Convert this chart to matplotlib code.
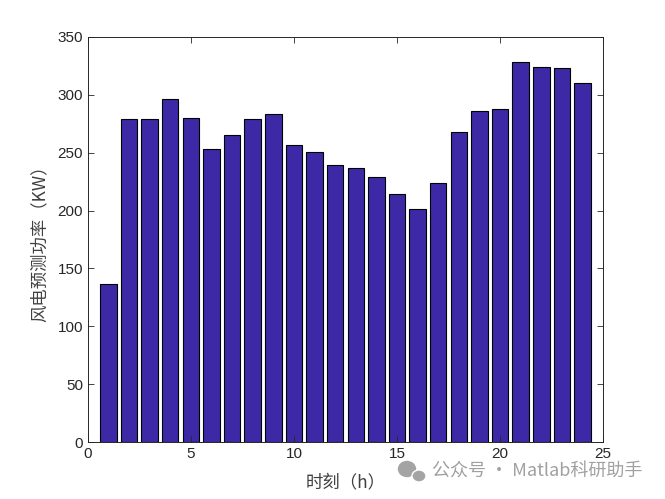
import matplotlib
matplotlib.use("Agg")
import matplotlib.pyplot as plt
from matplotlib.patches import Ellipse

plt.rcParams['font.family'] = ['Liberation Sans', 'Noto Sans CJK SC', 'DejaVu Sans']

# hourly wind power forecast (KW)
hours = list(range(1, 25))
power = [137, 279, 279, 296, 280, 253, 265, 279, 283, 257, 251, 239,
         237, 229, 214, 201, 224, 268, 286, 288, 328, 324, 323, 310]

xticks = [0, 5, 10, 15, 20, 25]
yticks = [0, 50, 100, 150, 200, 250, 300, 350]

W, H = 665, 499
fig = plt.figure(figsize=(W / 100, H / 100), dpi=100)
ax = fig.add_axes([0.132, 0.114, 0.775, 0.812])

ax.bar(hours, power, width=0.8, color="#3D28A6", edgecolor="black", linewidth=0.8)
ax.set_xlim(0, 25)
ax.set_ylim(0, 350)
ax.set_xticks(xticks)
ax.set_yticks(yticks)
ax.tick_params(direction="in", top=True, right=True, length=4, width=0.6,
               labelsize=11, colors="#262626")
for s in ax.spines.values():
    s.set_linewidth(0.7)
    s.set_color("#262626")

cjk = ['Noto Sans CJK SC', 'DejaVu Sans']
ax.set_xlabel("时刻（h）", fontsize=12.5, color="#404040", family=cjk, labelpad=9)
ax.set_ylabel("风电预测功率（KW）", fontsize=12.5, color="#404040", family=cjk, labelpad=6)

# watermark
fig.text(432 / W, 1 - 472 / H, "公众号 · Matlab科研助手", fontsize=13, color="#a0a0a0",
         family=cjk, va="center", ha="left")
fig.patches.append(Ellipse((407 / W, 1 - 469 / H), 17 / W, 15 / H, transform=fig.transFigure,
                           color="#a4a4a4", zorder=5))
fig.patches.append(Ellipse((419 / W, 1 - 476 / H), 14 / W, 12 / H, transform=fig.transFigure,
                           color="#a4a4a4", ec="white", lw=1, zorder=6))

fig.savefig("out.png", dpi=100)
